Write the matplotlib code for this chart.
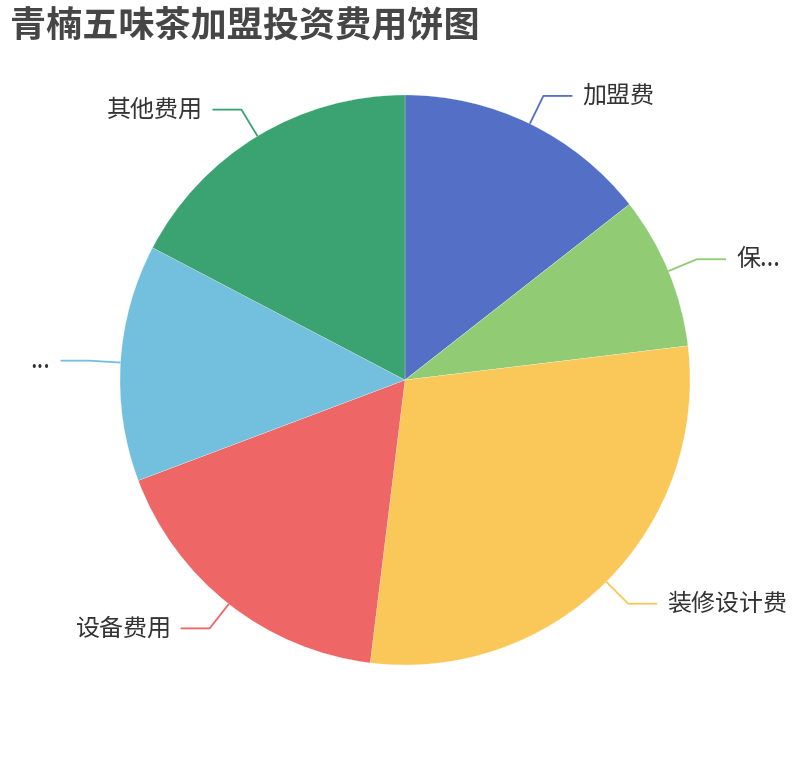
import numpy as np
import matplotlib
matplotlib.use("Agg")
import matplotlib.pyplot as plt

plt.rcParams['font.family'] = ['Noto Sans CJK SC', 'DejaVu Sans']

# data
labels = ['加盟费', '保...', '装修设计费', '设备费用', '...', '其他费用']
values = [5.0, 3.0, 10.0, 6.0, 4.65, 6.0]
colors = ['#5470c6', '#91cc75', '#fac858', '#ee6666', '#73c0de', '#3ba272']

W, H = 810, 760
fig = plt.figure(figsize=(W / 100, H / 100), dpi=100)
ax = fig.add_axes([0, 0, 1, 1])

cx, cy, r = 405, H - 380, 285
wedges, _ = ax.pie(values, colors=colors, startangle=90, counterclock=False,
                   center=(cx, cy), radius=r, frame=True,
                   wedgeprops=dict(linewidth=0.15, edgecolor='white'))
ax.set_xlim(0, W)
ax.set_ylim(0, H)
ax.set_aspect('equal')
ax.axis('off')

# label lines: radial segment then horizontal segment
for w, lab, col in zip(wedges, labels, colors):
    mid = np.deg2rad((w.theta1 + w.theta2) / 2)
    x0, y0 = cx + r * np.cos(mid), cy + r * np.sin(mid)
    x1, y1 = cx + (r + 31) * np.cos(mid), cy + (r + 31) * np.sin(mid)
    side = 1 if np.cos(mid) >= 0 else -1
    x2 = x1 + side * 29
    ax.plot([x0, x1, x2], [y0, y1, y1], color=col, lw=1.3, solid_capstyle='butt')
    ax.text(x2 + side * 10, y1, lab, ha='left' if side > 0 else 'right',
            va='center', fontsize=17.3, color='#333333')

fig.text(10 / W, 1 - 26 / H, '青楠五味茶加盟投资费用饼图', fontsize=26,
         fontweight='bold', color='#464646', ha='left', va='center')

fig.savefig('out.png', dpi=100)
